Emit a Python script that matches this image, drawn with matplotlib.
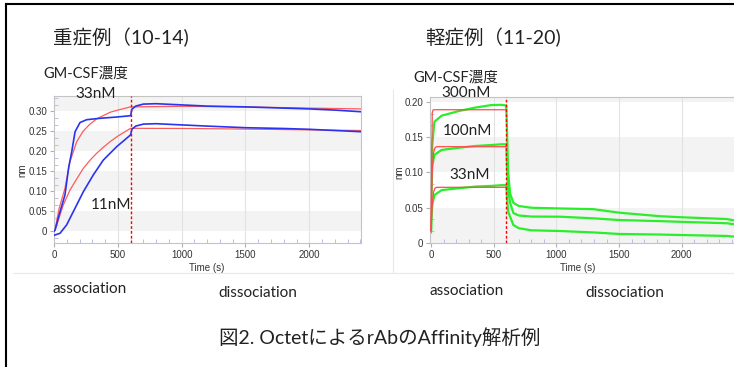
import matplotlib
matplotlib.use("Agg")
import matplotlib.pyplot as plt
from matplotlib.lines import Line2D
from matplotlib.ticker import MultipleLocator

# --- left panel: severe case (10-14), 33nM / 11nM ---
t_b33 = [0, 8, 40, 86, 115, 139, 165, 204, 256, 360, 491, 600,
         610, 640, 700, 800, 1000, 1200, 1500, 1800, 2000, 2200, 2400]
v_b33 = [0.0, 0.003, 0.041, 0.091, 0.160, 0.199, 0.249, 0.272, 0.279, 0.2825, 0.2857, 0.289,
         0.305, 0.313, 0.318, 0.319, 0.316, 0.313, 0.311, 0.308, 0.306, 0.303, 0.299]
t_b11 = [0, 47, 99, 151, 230, 308, 386, 491, 600,
         610, 640, 700, 800, 1000, 1200, 1500, 1800, 2000, 2200, 2400]
v_b11 = [-0.010, -0.005, 0.016, 0.049, 0.099, 0.141, 0.178, 0.2115, 0.241,
         0.255, 0.263, 0.268, 0.269, 0.266, 0.263, 0.259, 0.257, 0.255, 0.252, 0.249]
t_r33 = [0, 8, 40, 86, 125, 178, 230, 280, 334, 439, 500, 600, 1000, 1500, 2000, 2400]
v_r33 = [0.0, 0.003, 0.057, 0.1075, 0.174, 0.224, 0.251, 0.2675, 0.281, 0.2975, 0.303, 0.311,
         0.3125, 0.311, 0.308, 0.306]
t_r11 = [0, 8, 73, 125, 180, 230, 280, 334, 386, 439, 500, 600, 1065, 1500, 2000, 2400]
v_r11 = [0.0, 0.003, 0.066, 0.103, 0.132, 0.1575, 0.177, 0.195, 0.210, 0.224, 0.238, 0.2575,
         0.257, 0.2555, 0.2535, 0.252]

# --- right panel: mild case (11-20), 300 / 100 / 33nM ---
t_g = [0, 3, 10, 27, 85, 218, 351, 484, 560, 600,
       606, 615, 631, 657, 700, 800, 1029, 1294, 1500, 1826, 2000, 2358, 2420]
v_g300 = [0.018, 0.09, 0.139, 0.172, 0.1806, 0.187, 0.192, 0.1957, 0.196, 0.195,
          0.16, 0.10, 0.070, 0.057, 0.0525, 0.050, 0.049, 0.048, 0.043, 0.038, 0.0365, 0.034, 0.032]
v_g100 = [0.018, 0.07, 0.11, 0.125, 0.132, 0.135, 0.1376, 0.139, 0.140, 0.140,
          0.11, 0.075, 0.057, 0.0425, 0.039, 0.0375, 0.0373, 0.035, 0.0326, 0.031, 0.030, 0.028, 0.0265]
v_g33 = [0.015, 0.035, 0.054, 0.068, 0.075, 0.0776, 0.080, 0.081, 0.082, 0.082,
         0.065, 0.045, 0.037, 0.0255, 0.021, 0.018, 0.017, 0.015, 0.0128, 0.012, 0.0113, 0.010, 0.009]
t_r300 = [0, 10, 18, 600]
v_r300 = [0.018, 0.185, 0.189, 0.189]
t_rfit = [0, 10, 20, 32, 45, 600]
v_r100 = [0.018, 0.105, 0.128, 0.135, 0.1366, 0.1366]
v_r33b = [0.016, 0.055, 0.072, 0.078, 0.079, 0.079]

left_yticks = [0, 0.05, 0.10, 0.15, 0.20, 0.25, 0.30]
right_yticks = [0, 0.05, 0.10, 0.15, 0.20]
xticks = [0, 500, 1000, 1500, 2000]

W, H = 734, 367
fig = plt.figure(figsize=(W / 100, H / 100), dpi=100)
JP = ['Lato', 'Noto Sans CJK JP']
TICK = 'Liberation Sans'
TCOL = '#333333'


def fx(x):
    return x / W


def fy(y):
    return 1 - y / H


def style(ax, ylim, xlim, yticks, bands):
    ax.set_xlim(*xlim)
    ax.set_ylim(*ylim)
    for lo, hi in bands:
        ax.axhspan(lo, hi, color='#f3f3f3', zorder=0, lw=0)
    for x in xticks[1:]:
        ax.axvline(x, color='#e2e2e2', lw=0.8, zorder=0.5)
    ax.set_xticks(xticks)
    ax.set_yticks(yticks)
    ax.set_yticklabels(['0' if v == 0 else '%.2f' % v for v in yticks])
    ax.xaxis.set_minor_locator(MultipleLocator(100))
    ax.yaxis.set_minor_locator(MultipleLocator(0.05 / 3))
    ax.tick_params(which='major', length=3, width=0.8, color='#b0b0b0',
                   labelsize=7, labelcolor=TCOL, pad=2)
    ax.tick_params(which='minor', direction='in', length=3, width=0.7, color='#b8bfe0')
    for lab in ax.get_xticklabels() + ax.get_yticklabels():
        lab.set_family(TICK)
    for s in ax.spines.values():
        s.set_color('#c4c4c4')
        s.set_linewidth(0.8)
    ax.axvline(600, color='red', ls=(0, (2, 1.5)), lw=1, zorder=4)


# left axes
ax1 = fig.add_axes([fx(54), fy(242.7), fx(307), 147 / H])
style(ax1, (-0.0285, 0.339), (0, 2405), left_yticks,
      [(0.30, 0.4), (0.20, 0.25), (0.10, 0.15), (0.0, 0.05)])
ax1.plot(t_r33, v_r33, color='#ff5a5a', lw=0.9, zorder=2)
ax1.plot(t_r11, v_r11, color='#ff5a5a', lw=0.9, zorder=2)
ax1.plot(t_b33, v_b33, color='#2a34f0', lw=1.2, zorder=3)
ax1.plot(t_b11, v_b11, color='#2a34f0', lw=1.2, zorder=3)

# right axes
ax2 = fig.add_axes([fx(430), fy(243), fx(310), 146.3 / H])
style(ax2, (0, 0.2075), (-8, 2464), right_yticks,
      [(0.20, 0.3), (0.10, 0.15), (0.0, 0.05)])
for v in (v_g300, v_g100, v_g33):
    ax2.plot(t_g, v, color='#2aee2a', lw=1.6, zorder=2)
ax2.plot(t_r300, v_r300, color='#ff4a4a', lw=0.9, zorder=3)
ax2.plot(t_rfit, v_r100, color='#ff4a4a', lw=0.9, zorder=3)
ax2.plot(t_rfit, v_r33b, color='#ff4a4a', lw=0.9, zorder=3)

# axis labels as text (placed to match)
fig.text(fx(22), fy(170), 'nm', rotation=90, ha='center', va='center',
         fontsize=7, family=TICK, color=TCOL)
fig.text(fx(399), fy(172), 'nm', rotation=90, ha='center', va='center',
         fontsize=7, family=TICK, color=TCOL)
fig.text(fx(207), fy(268), 'Time (s)', ha='center', va='center',
         fontsize=7, family=TICK, color=TCOL)
fig.text(fx(578), fy(268), 'Time (s)', ha='center', va='center',
         fontsize=7, family=TICK, color=TCOL)

# annotations
txt = [
    (53, 37, '重症例（10-14)', 14),
    (425, 37, '軽症例（11-20)', 14),
    (43, 74, 'GM-CSF濃度', 10.5),
    (413, 78, 'GM-CSF濃度', 10.5),
    (75, 94, '33nM', 11),
    (91, 205, '11nM', 11),
    (441, 93, '300nM', 11),
    (443, 131, '100nM', 11),
    (449, 175, '33nM', 11),
    (52, 289, 'association', 11),
    (218, 293, 'dissociation', 11),
    (430, 291, 'association', 11),
    (585, 293, 'dissociation', 11),
]
for x, y, s, size in txt:
    fig.text(fx(x), fy(y), s, ha='left', va='center', fontsize=size,
             family=JP, color='#222222')
fig.text(fx(380), fy(337), '図2. OctetによるrAbのAffinity解析例', ha='center',
         va='center', fontsize=14, family=JP, color='#222222')

# frames
fig.add_artist(Line2D([fx(13), 1], [fy(273), fy(273)], color='#e8e8e8', lw=0.8))
fig.add_artist(Line2D([fx(393), fx(393)], [fy(90), fy(273)], color='#e8e8e8', lw=0.8))
fig.add_artist(Line2D([fx(6), fx(6)], [0, fy(4)], color='black', lw=1.5))
fig.add_artist(Line2D([fx(6), 1], [fy(4), fy(4)], color='black', lw=1.5))

fig.savefig('out.png', dpi=100)
